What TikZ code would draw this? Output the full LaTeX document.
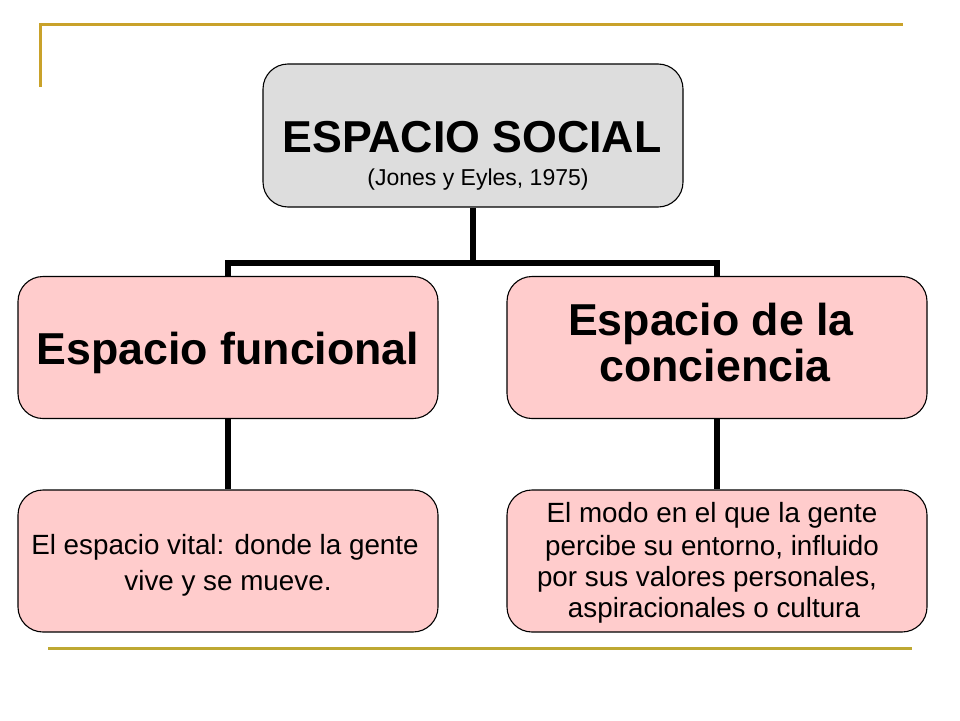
\documentclass[tikz,border=0pt]{standalone}
\usepackage{fontspec}
\setmainfont{Liberation Sans}
\definecolor{goldA}{HTML}{C9A22A}
\definecolor{goldB}{HTML}{BEA832}
\definecolor{greyfill}{HTML}{DDDDDD}
\definecolor{pinkfill}{HTML}{FFCCCC}
\tikzset{
  boxbase/.style={draw=black, line width=1.1pt, rounded corners=25pt, minimum width=420pt, inner sep=0pt},
  rootbox/.style={boxbase, fill=greyfill, minimum height=143pt},
  pinkbox/.style={boxbase, fill=pinkfill, minimum height=142pt},
  headtxt/.style={anchor=base, inner sep=0pt, font=\bfseries\fontsize{44.7}{46}\selectfont},
  subtxt/.style={anchor=base, inner sep=0pt, font=\fontsize{23}{26}\selectfont},
  bodytxt/.style={anchor=base, inner sep=0pt, font=\fontsize{27.8}{31}\selectfont},
  conn/.style={draw=black, line width=5.5pt},
  rule/.style={line width=3pt}
}
\begin{document}
\begin{tikzpicture}[x=1pt,y=-1pt]
\useasboundingbox (0,0) rectangle (960,720);
% decorative rules
\draw[rule, goldA] (40,87) -- (40,24) -- (903,24);
\draw[rule, goldB] (48,648) -- (912,648);
% boxes
\node[rootbox] (root) at (473,135.5) {};
\node[pinkbox] (fun) at (228,347.5) {};
\node[pinkbox] (con) at (717,347.5) {};
\node[pinkbox] (funB) at (228,561) {};
\node[pinkbox] (conB) at (717,561) {};
% connectors
\coordinate (hub) at (473,263);
\draw[conn] (root.south) -- (hub);
\draw[conn] (fun.north) |- (hub) -| (con.north);
\draw[conn] (fun.south) -- (funB.north);
\draw[conn] (con.south) -- (conB.north);
% texts
\node[headtxt] (rootT1) at (472,152) {ESPACIO SOCIAL};
\node[subtxt] (rootT2) at (478,185) {(Jones y Eyles, 1975)};
\node[headtxt] (funT) at (228,364) {Espacio funcional};
\node[headtxt] (conT1) at (711,335) {Espacio de la};
\node[headtxt] (conT2) at (715,381) {conciencia};
\node[bodytxt] (funBT1) at (225,554) {El espacio vital: donde la gente};
\node[bodytxt] (funBT2) at (228,590) {vive y se mueve.};
\node[bodytxt] (conBT1) at (712,522) {El modo en el que la gente};
\node[bodytxt] (conBT2) at (712,555) {percibe su entorno, influido};
\node[bodytxt] (conBT3) at (707,586) {por sus valores personales,};
\node[bodytxt] (conBT4) at (714,617) {aspiracionales o cultura};
\end{tikzpicture}
\end{document}
